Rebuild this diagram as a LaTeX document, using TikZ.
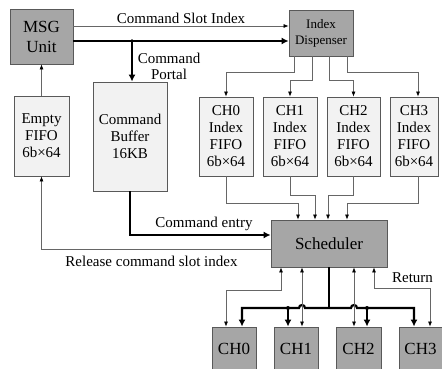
\documentclass[tikz,border=0pt]{standalone}
\usepackage{fontspec}
\setmainfont{Liberation Serif}
\usetikzlibrary{arrows.meta}

\tikzset{
  darkbox/.style={draw=black!65, fill=black!35, line width=0.8pt, inner sep=0pt,
    align=center, font=\fontsize{17}{20}\selectfont},
  lightbox/.style={draw=black!65, fill=black!5, line width=0.8pt, inner sep=0pt,
    align=center, font=\fontsize{15}{17}\selectfont},
  sig/.style={draw=black!60, line width=0.7pt, >={Latex[length=5pt,width=4pt,color=black]}},
  bus/.style={draw=black, line width=2.2pt, >={Latex[length=7pt,width=7pt]}},
  lbl/.style={font=\fontsize{15}{16}\selectfont, inner sep=0pt}
}

\begin{document}
\begin{tikzpicture}[x=1pt,y=-1pt]
  \useasboundingbox (0,0) rectangle (442,369);

  % blocks
  \node[darkbox, minimum width=63pt, minimum height=55pt] (msg) at (41.5,36.5) {MSG\\Unit};
  \node[darkbox, minimum width=64pt, minimum height=46pt, font=\fontsize{13}{16}\selectfont]
    (disp) at (321,33) {Index\\Dispenser};
  \node[lightbox, minimum width=55pt, minimum height=80pt] (empty) at (41.5,136) {Empty\\FIFO\\6b×64};
  \node[lightbox, minimum width=74pt, minimum height=109pt] (buf) at (130,136.5) {Command\\Buffer\\16KB};
  \node[lightbox, minimum width=54pt, minimum height=79pt] (f0) at (226,136.5) {CH0\\Index\\FIFO\\6b×64};
  \node[lightbox, minimum width=54pt, minimum height=79pt] (f1) at (290,136.5) {CH1\\Index\\FIFO\\6b×64};
  \node[lightbox, minimum width=53pt, minimum height=79pt] (f2) at (353.5,136.5) {CH2\\Index\\FIFO\\6b×64};
  \node[lightbox, minimum width=48pt, minimum height=79pt] (f3) at (414,136.5) {CH3\\Index\\FIFO\\6b×64};
  \node[darkbox, minimum width=116pt, minimum height=47pt] (sch) at (329,243.5) {Scheduler};
  \node[darkbox, minimum width=44pt, minimum height=43pt] (c0) at (234,348.5) {CH0};
  \node[darkbox, minimum width=44pt, minimum height=43pt] (c1) at (296,348.5) {CH1};
  \node[darkbox, minimum width=45pt, minimum height=43pt] (c2) at (358.5,348.5) {CH2};
  \node[darkbox, minimum width=43pt, minimum height=43pt] (c3) at (420.5,348.5) {CH3};

  % top links
  \draw[sig,->] ([yshift=10.5pt]msg.east) -- ([yshift=7pt]disp.west)
    node[lbl, midway, above=2pt] {Command Slot Index};
  \draw[bus,->] ([yshift=-4.5pt]msg.east) -- ([yshift=-8pt]disp.west);
  \coordinate (portal) at (132,41);
  \draw[bus,->] (portal) -- ([xshift=2pt]buf.north);
  \fill (portal) circle (1.8pt);
  \node[lbl, align=center, font=\fontsize{15}{16}\selectfont] (portaltxt) at (169,66) {Command\\Portal};
  \draw[sig,->] (empty.north) -- (msg.south);

  % dispenser to index fifos
  \draw[sig,->] (294,0 |- disp.south) -- (294,72) -| (f0.north);
  \draw[sig,->] (312,0 |- disp.south) -- (312,80) -| (f1.north);
  \draw[sig,->] (329,0 |- disp.south) -- (329,80) -| (f2.north);
  \draw[sig,->] (347,0 |- disp.south) -- (347,72) -| ([xshift=4pt]f3.north);

  % index fifos to scheduler
  \draw[sig,->] (f0.south) |- (298,203) -- (298,0 |- sch.north);
  \draw[sig,->] (f1.south) |- (315,195) -- (315,0 |- sch.north);
  \draw[sig,->] (f2.south) |- (328,195) -- (328,0 |- sch.north);
  \draw[sig,->] ([xshift=4pt]f3.south) |- (347,203) -- (347,0 |- sch.north);

  % command entry and release
  \draw[bus,->] (buf.south) |- ([yshift=8.5pt]sch.west);
  \node[lbl, anchor=base] (entrytxt) at (204,227) {Command entry};
  \draw[sig,->] ([yshift=-5.5pt]sch.west) -| (empty.south);
  \node[lbl, anchor=base] (reltxt) at (151.5,266) {Release command slot index};

  % scheduler to channels
  \coordinate (hub) at (329,308);
  \draw[bus] (sch.south) -- (hub);
  \draw[bus,->] (hub) -- (305,308) arc[start angle=0, end angle=180, radius=3pt]
    -- (242,308) -- ([xshift=8pt]c0.north);
  \draw[bus,->] (hub) -- (351,308) arc[start angle=180, end angle=0, radius=3pt]
    -- (414,308) -- ([xshift=-6.5pt]c3.north);
  \draw[bus,->] (288,308) -- ([xshift=-8pt]c1.north);
  \draw[bus,->] (367,308) -- ([xshift=8.5pt]c2.north);
  \fill (288,308) circle (2pt) (367,308) circle (2pt);

  % return paths
  \draw[sig,<->] ([xshift=-8pt]c0.north) |- (281,290) -- (281,0 |- sch.south);
  \draw[sig,<->] ([xshift=6pt]c1.north) -- (302,0 |- sch.south);
  \draw[sig,<->] ([xshift=-4.5pt]c2.north) -- (354,0 |- sch.south);
  \draw[sig,<->] ([xshift=9.5pt]c3.north) |- (374,288) -- (374,0 |- sch.south);
  \node[lbl, anchor=base] (rettxt) at (412.5,282) {Return};
\end{tikzpicture}
\end{document}
